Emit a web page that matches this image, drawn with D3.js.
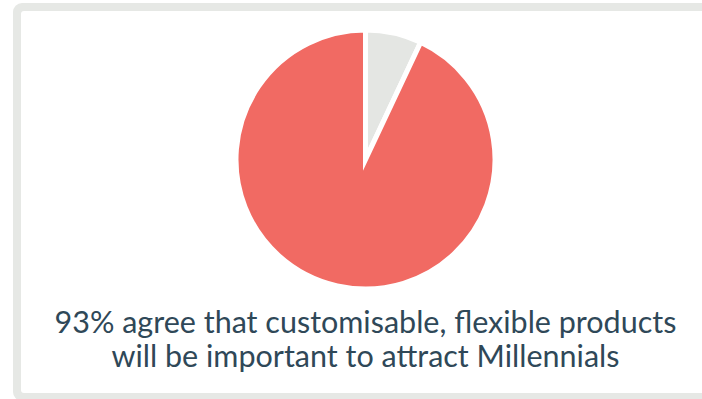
<!DOCTYPE html>
<html>
<head>
<meta charset="utf-8">
<script src="https://cdn.jsdelivr.net/npm/d3@7"></script>
<style>
  html, body { margin: 0; padding: 0; background: #ffffff; }
  svg { display: block; }
</style>
</head>
<body>
<svg id="chart" width="702" height="399"></svg>
<script>
// Share of respondents
const categories = ["Agree", "Other"];
const values = [93, 7];
const colors = ["#F16A63", "#E4E6E3"];
const captionLines = [
  "93% agree that customisable, flexible products",
  "will be important to attract Millennials"
];

const svg = d3.select("#chart");

// Card with a thick light-grey frame
svg.append("rect")
  .attr("x", 13).attr("y", 3)
  .attr("width", 705).attr("height", 398)
  .attr("rx", 9).attr("ry", 9)
  .attr("fill", "#E6E8E5");
svg.append("rect")
  .attr("x", 21).attr("y", 11)
  .attr("width", 689).attr("height", 382)
  .attr("rx", 3).attr("ry", 3)
  .attr("fill", "#ffffff");

// Pie: the small slice starts at twelve o'clock, the large one wraps around
const cx = 365.5, cy = 159.5, radius = 129.5;
const data = categories.map((c, i) => ({ category: c, value: values[i], color: colors[i] }));
const arcs = d3.pie().value(d => d.value).sort(null)
  .startAngle(0).endAngle(2 * Math.PI)([data[1], data[0]]);

const arc = d3.arc().innerRadius(0).outerRadius(radius);

svg.append("g")
  .attr("transform", `translate(${cx},${cy})`)
  .selectAll("path")
  .data(arcs)
  .join("path")
  .attr("d", arc)
  .attr("fill", d => d.data.color)
  .attr("stroke", "#ffffff")
  .attr("stroke-width", 5)
  .attr("stroke-linejoin", "miter")
  .attr("stroke-miterlimit", 10);

// Caption
const caption = svg.append("text")
  .attr("text-anchor", "middle")
  .attr("font-family", "Lato, 'Open Sans', sans-serif")
  .attr("font-size", 30.5)
  .attr("fill", "#2F4858");
captionLines.forEach((line, i) => {
  caption.append("tspan")
    .attr("x", cx)
    .attr("y", 333 + i * 34)
    .text(line);
});
</script>
</body>
</html>
